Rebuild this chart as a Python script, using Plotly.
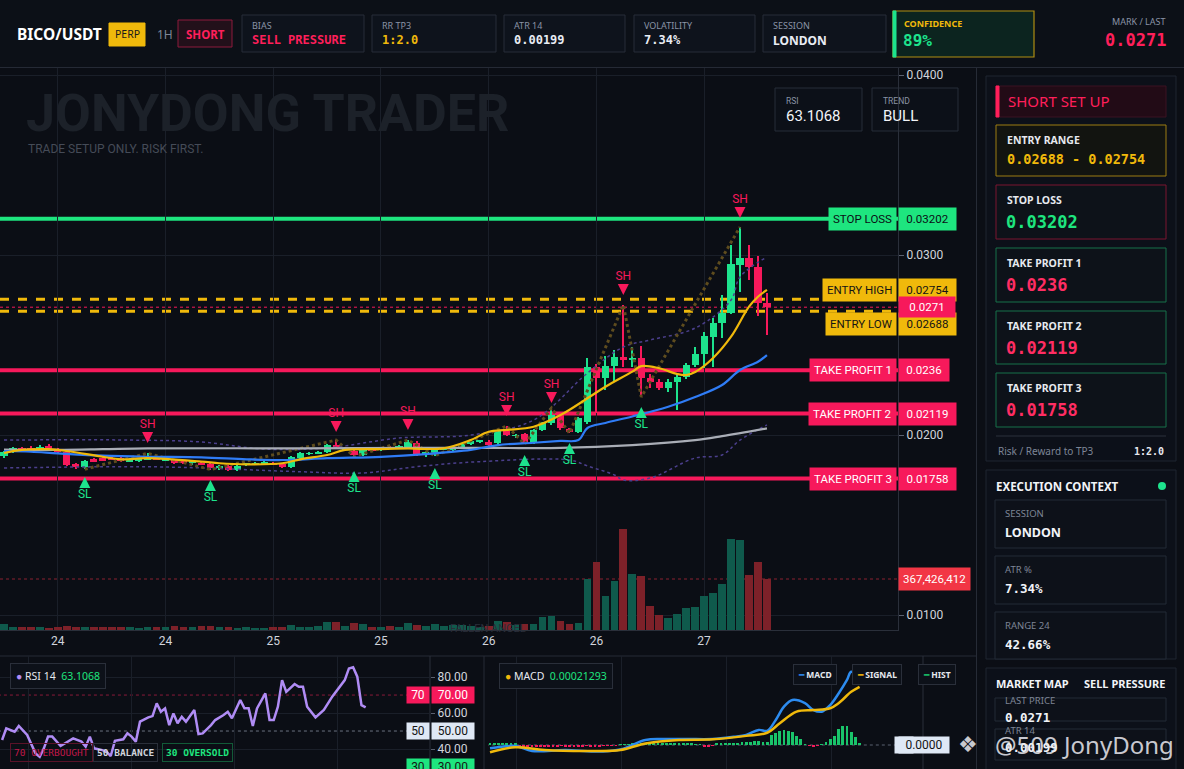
import pandas as pd
import plotly.graph_objects as go

W, H = 1184, 769


def X(px):
    return px / W


def Y(py):
    return 1 - py / H


# ---------------- data ----------------
opens = [0.01882, 0.01905, 0.01928, 0.01930, 0.01916, 0.01941, 0.01922, 0.01905, 0.01838, 0.01824,
         0.01868, 0.01870, 0.01872, 0.01870, 0.01855, 0.01858, 0.01865, 0.01873, 0.01860, 0.01862,
         0.01858, 0.01842, 0.01845, 0.01838, 0.01815, 0.01830, 0.01806, 0.01834, 0.01838, 0.01838,
         0.01845, 0.01840, 0.01822, 0.01872, 0.01895, 0.01898, 0.01905, 0.01942, 0.01920, 0.01912,
         0.01890, 0.01925, 0.01915, 0.01932, 0.01928, 0.01935, 0.01958, 0.01890, 0.01895, 0.01922,
         0.01917, 0.01930, 0.01948, 0.01964, 0.01963, 0.01955, 0.02022, 0.01995, 0.02005, 0.01957,
         0.02028, 0.02065, 0.02110, 0.02035, 0.02018, 0.02072, 0.02378, 0.02317, 0.02383, 0.02433,
         0.02418, 0.02428, 0.02317, 0.02295, 0.02262, 0.02295, 0.02322, 0.02389, 0.02450, 0.02545,
         0.02622, 0.02678, 0.02945, 0.02983, 0.02933, 0.02733]
highs = [0.01912, 0.01935, 0.01936, 0.01938, 0.01942, 0.01950, 0.01930, 0.01910, 0.01845, 0.01862,
         0.01875, 0.01876, 0.01878, 0.01876, 0.01870, 0.01875, 0.01898, 0.01878, 0.01870, 0.01868,
         0.01862, 0.01860, 0.01850, 0.01842, 0.01835, 0.01836, 0.01834, 0.01845, 0.01848, 0.01858,
         0.01850, 0.01845, 0.01882, 0.01905, 0.01905, 0.01912, 0.01950, 0.01972, 0.01935, 0.01918,
         0.01920, 0.01932, 0.01935, 0.01940, 0.01945, 0.01972, 0.01966, 0.01912, 0.01922, 0.01935,
         0.01940, 0.01955, 0.01975, 0.01975, 0.01970, 0.02030, 0.02050, 0.02008, 0.02012, 0.02035,
         0.02072, 0.02150, 0.02118, 0.02040, 0.02100, 0.02430, 0.02395, 0.02440, 0.02470, 0.02722,
         0.02490, 0.02495, 0.02340, 0.02310, 0.02310, 0.02340, 0.02400, 0.02489, 0.02572, 0.02650,
         0.02780, 0.03056, 0.03156, 0.03056, 0.02994, 0.02789]
lows = [0.01872, 0.01900, 0.01915, 0.01912, 0.01910, 0.01918, 0.01898, 0.01828, 0.01812, 0.01810,
        0.01848, 0.01855, 0.01860, 0.01848, 0.01850, 0.01852, 0.01860, 0.01860, 0.01855, 0.01838,
        0.01838, 0.01836, 0.01832, 0.01808, 0.01808, 0.01800, 0.01800, 0.01828, 0.01832, 0.01834,
        0.01835, 0.01815, 0.01818, 0.01866, 0.01888, 0.01892, 0.01900, 0.01930, 0.01912, 0.01880,
        0.01885, 0.01905, 0.01910, 0.01920, 0.01922, 0.01930, 0.01885, 0.01878, 0.01885, 0.01915,
        0.01910, 0.01925, 0.01942, 0.01958, 0.01940, 0.01948, 0.01992, 0.01985, 0.01950, 0.01950,
        0.02020, 0.02058, 0.02030, 0.02010, 0.02012, 0.02060, 0.02122, 0.02250, 0.02300, 0.02380,
        0.02380, 0.02211, 0.02260, 0.02250, 0.02240, 0.02139, 0.02310, 0.02378, 0.02372, 0.02378,
        0.02540, 0.02670, 0.02794, 0.02861, 0.02661, 0.02556]
closes = [0.01905, 0.01926, 0.01922, 0.01918, 0.01934, 0.01922, 0.01905, 0.01835, 0.01822, 0.01856,
          0.01852, 0.01858, 0.01865, 0.01855, 0.01866, 0.01870, 0.01872, 0.01865, 0.01866, 0.01842,
          0.01843, 0.01855, 0.01838, 0.01815, 0.01830, 0.01806, 0.01830, 0.01840, 0.01842, 0.01852,
          0.01838, 0.01822, 0.01878, 0.01898, 0.01899, 0.01907, 0.01944, 0.01936, 0.01930, 0.01890,
          0.01915, 0.01910, 0.01930, 0.01926, 0.01940, 0.01960, 0.01894, 0.01907, 0.01917, 0.01927,
          0.01935, 0.01950, 0.01968, 0.01968, 0.01945, 0.02022, 0.02000, 0.01998, 0.01957, 0.02028,
          0.02065, 0.02111, 0.02037, 0.02018, 0.02093, 0.02378, 0.02317, 0.02383, 0.02433, 0.02422,
          0.02428, 0.02317, 0.02295, 0.02262, 0.02295, 0.02322, 0.02389, 0.02450, 0.02550, 0.02622,
          0.02678, 0.02950, 0.02983, 0.02933, 0.02733, 0.02710]
volume_m = [43, 22, 22, 24, 22, 14, 22, 29, 22, 22, 22, 22, 22, 22, 22, 14, 22, 22, 22, 29,
            22, 22, 29, 29, 22, 22, 14, 22, 14, 14, 22, 22, 36, 22, 22, 29, 58, 58, 29, 50,
            43, 22, 22, 29, 22, 50, 36, 29, 43, 29, 36, 36, 29, 22, 29, 65, 58, 36, 43, 43,
            94, 101, 65, 43, 50, 367, 490, 245, 353, 727, 403, 389, 173, 108, 86, 115, 158, 166, 245, 266,
            331, 655, 648, 396, 490, 367.426412]

tick_labels = ["24", "24", "25", "25", "26", "26", "27"]

# indicator lines, read at sample candles
ema_fast_idx = [0, 2, 5, 7, 11, 13, 16, 22, 24, 27, 31, 33, 36, 38, 42, 45, 49, 52, 54, 56, 59, 62,
                65, 67, 70, 71, 73, 75, 76, 77, 79, 81, 83, 84, 85]
ema_fast = [0.01900, 0.01917, 0.01921, 0.01911, 0.01879, 0.01865, 0.01871, 0.01852, 0.01843, 0.01837,
            0.01843, 0.01865, 0.01889, 0.01917, 0.01922, 0.01925, 0.01926, 0.01972, 0.02018, 0.02028,
            0.02046, 0.02111, 0.02204, 0.02268, 0.02352, 0.02383, 0.02371, 0.02339, 0.02333, 0.02350,
            0.02428, 0.02546, 0.02713, 0.02768, 0.02806]
ema_mid_idx = [0, 3, 6, 11, 16, 22, 27, 31, 36, 42, 47, 52, 55, 59, 62, 64, 65, 67, 70, 74, 77, 80, 82, 84, 85]
ema_mid = [0.01911, 0.01907, 0.01898, 0.01885, 0.01879, 0.01876, 0.01865, 0.01861, 0.01871, 0.01879,
           0.01894, 0.01917, 0.01944, 0.01957, 0.01967, 0.01972, 0.02039, 0.02067, 0.02103, 0.02157,
           0.02211, 0.02278, 0.02361, 0.02407, 0.02444]
ema_slow_idx = [0, 6, 11, 16, 33, 46, 55, 62, 70, 77, 80, 85]
ema_slow = [0.01919, 0.01917, 0.01921, 0.01926, 0.01926, 0.01929, 0.01928, 0.01928, 0.01944, 0.01972,
            0.01994, 0.02037]
bb_up_idx = [0, 14, 22, 29, 36, 44, 52, 59, 65, 69, 72, 77, 81, 82, 85]
bb_up = [0.01972, 0.01972, 0.01961, 0.01922, 0.01928, 0.01983, 0.02000, 0.02083, 0.02344, 0.02489,
         0.02528, 0.02594, 0.02750, 0.02878, 0.02989]
bb_lo_idx = [0, 15, 22, 33, 40, 46, 53, 63, 65, 68, 69, 72, 77, 80, 82, 85]
bb_lo = [0.01817, 0.01824, 0.01817, 0.01796, 0.01789, 0.01824, 0.01852, 0.01861, 0.01828, 0.01778,
         0.01750, 0.01761, 0.01872, 0.01889, 0.01972, 0.02056]
zz_idx = [9, 16, 23, 37, 39, 45, 48, 56, 58, 61, 63, 69, 71, 82]
zz_price = [0.01810, 0.01898, 0.01808, 0.01972, 0.01880, 0.01972, 0.01885, 0.02050, 0.01950, 0.02150,
            0.02010, 0.02722, 0.02211, 0.03156]

sh_idx = [16, 37, 45, 56, 61, 69, 82]
sh_price = [0.01956, 0.02017, 0.02028, 0.02106, 0.02178, 0.02778, 0.03206]
sl_idx = [9, 23, 39, 48, 58, 63, 71]
sl_price = [0.01767, 0.01750, 0.01800, 0.01817, 0.01889, 0.01956, 0.02156]

levels = [("STOP LOSS", 0.03202), ("ENTRY HIGH", 0.02754), ("ENTRY LOW", 0.02688),
          ("TAKE PROFIT 1", 0.0236), ("TAKE PROFIT 2", 0.02119), ("TAKE PROFIT 3", 0.01758)]
last_price = 0.0271

rsi_idx = [0, 1, 3, 4, 6, 8, 9, 10, 11, 12, 14, 15, 17, 19, 20, 21, 22, 24, 25, 26, 27, 29, 30, 31,
           32, 33, 35, 36, 37, 38, 39, 40, 41, 42, 43, 44, 46, 47, 48, 50, 51, 53, 54, 55, 57, 58,
           59, 60, 61, 63, 64, 65, 66, 67, 68, 70, 71, 72, 73, 75, 77, 79, 82, 83, 84, 85, 86, 87]
rsi_vals = [45.0, 51.5, 49.6, 52.8, 47.8, 37.6, 35.7, 40.4, 46.9, 46.9, 41.7, 43.1, 45.9, 44.1, 41.3,
            46.9, 40.4, 39.4, 38.5, 36.1, 44.6, 45.4, 48.7, 46.9, 44.1, 55.2, 57.6, 58.3, 65.4, 60.7,
            62.6, 53.3, 59.8, 54.3, 57.9, 55.2, 61.7, 48.3, 48.7, 53.3, 56.1, 58.9, 60.7, 57.1, 67.2,
            62.6, 62.6, 52.8, 62.6, 70.9, 56.1, 56.1, 63.5, 78.3, 71.8, 76.1, 74.6, 74.6, 63.5, 57.6,
            61.7, 69.1, 78.3, 84.8, 85.4, 80.2, 64.4, 63.1068]

macd_idx = [0, 6, 10, 18, 25, 31, 37, 41, 47, 53, 58, 61, 64, 66, 68, 70, 72, 75, 77, 79, 81, 83, 85, 86, 88]
macd_line = [-1.05e-5, -0.32e-5, -1.9e-5, -1.6e-5, -2.1e-5, -1.4e-5, 1.6e-5, 1.9e-5, 1.9e-5, 1.9e-5,
             2.6e-5, 3.2e-5, 4.8e-5, 4.5e-5, 7.9e-5, 12.2e-5, 14.3e-5, 13.3e-5, 11.1e-5, 10.6e-5,
             12.7e-5, 16.4e-5, 20.7e-5, 23.3e-5, 21.293e-5]
signal_idx = [0, 6, 13, 25, 31, 37, 45, 53, 61, 66, 69, 73, 77, 81, 83, 86, 88]
signal_line = [-2.3e-5, -0.7e-5, -1.6e-5, -1.9e-5, -1.6e-5, 0.5e-5, 1.6e-5, 1.8e-5, 2.9e-5, 3.9e-5,
               6.9e-5, 10.6e-5, 11.1e-5, 11.7e-5, 13.3e-5, 16.9e-5, 18.5e-5]
hist = [0.5, 0.5, 0.6, 0.5, 0.5, 0.6, 0.4, -0.4, -0.5, -0.4, -0.6, -0.5, -0.4, -0.5, -0.6, -0.4,
        -0.5, -0.3, -0.4, -0.5, -0.6, -0.5, -0.4, -0.3, -0.5, -0.6, -0.4, -0.3, -0.2, -0.2, -0.1, 0.1,
        0.2, 0.3, 0.4, 0.5, 0.6, 0.7, 0.8, 0.7, 0.6, 0.6, 0.5, 0.6, 0.5, 0.4, 0.5, 0.4, 0.5, 0.3,
        0.2, -0.4, -0.5, -0.3, 0.4, 0.5, 0.6, 0.5, 0.7, 0.6, 0.8, 0.9, 1.1, 1.3, 1.2, 1.0, 1.1, 3.2,
        3.7, 4.5, 4.8, 4.5, 4.2, 2.9, 1.8, 0.2, -0.3, -0.5, -0.3, 0.1, 1.1, 1.8, 2.9, 5.0, 6.0, 6.0,
        4.2, 2.4, 0.5]

# ---------------- styling ----------------
BG = "#0b0e15"
GRID = "#1a1f29"
BORDER = "#262c38"
GREEN = "#1de38d"
RED = "#f7195b"
YELLOW = "#f0b90b"
TXT = "#d1d4dc"
MUTED = "#7d8596"
SANS = "Noto Sans, Open Sans, sans-serif"
MONO = "DejaVu Sans Mono, monospace"
NARROW = "Liberation Sans Narrow, Roboto, sans-serif"

start = pd.Timestamp("2025-06-23 18:00")
times = pd.date_range(start, periods=len(opens), freq="h")
hour = pd.Timedelta(hours=1)
tick_times = [pd.Timestamp("2025-06-24 00:00") + 12 * k * hour for k in range(len(tick_labels))]

fig = go.Figure()

vol_colors = ["#0f5a4c" if c >= o else "#7d2129" for o, c in zip(opens, closes)]
fig.add_trace(go.Bar(x=times, y=[v * 1e6 for v in volume_m], marker_color=vol_colors,
                     marker_line_width=0, width=0.86 * 3600000, yaxis="y2", showlegend=False,
                     hoverinfo="skip"))


def tline(idx, vals, color, width, dash="solid", shape="spline"):
    fig.add_trace(go.Scatter(x=[times[i] for i in idx], y=vals, mode="lines",
                             line=dict(color=color, width=width, dash=dash, shape=shape),
                             showlegend=False, hoverinfo="skip"))


tline(bb_up_idx, bb_up, "#4b3f8c", 1.5, "dot")
tline(bb_lo_idx, bb_lo, "#4b3f8c", 1.5, "dot")
tline(zz_idx, zz_price, "#5e4c1e", 3, "dot", "linear")
tline(ema_slow_idx, ema_slow, "#a9adb6", 2.2)
tline(ema_mid_idx, ema_mid, "#2f7cf6", 2.2)
tline(ema_fast_idx, ema_fast, YELLOW, 2.2)

# candles drawn as wick + body bars
candle_colors = [GREEN if c >= o else RED for o, c in zip(opens, closes)]
fig.add_trace(go.Bar(x=times, base=lows, y=[h - l for h, l in zip(highs, lows)],
                     marker_color=candle_colors, marker_line_width=0, width=0.13 * 3600000,
                     showlegend=False, hoverinfo="skip"))
fig.add_trace(go.Bar(x=times, base=[min(o, c) for o, c in zip(opens, closes)],
                     y=[max(abs(c - o), 0.00004) for o, c in zip(opens, closes)],
                     marker_color=candle_colors, marker_line_width=0, width=0.8 * 3600000,
                     showlegend=False, hoverinfo="skip"))

# swing markers: arrows, then labels kept clear of the arrow
for idx, price, sym, col, lab, pos in [(sh_idx, sh_price, "arrow-down", RED, "SH", "top center"),
                                       (sl_idx, sl_price, "arrow-up", GREEN, "SL", "bottom center")]:
    pts = [times[i] for i in idx]
    fig.add_trace(go.Scatter(x=pts, y=price, mode="markers",
                             marker=dict(symbol=sym, size=11, color=col, line=dict(width=0)),
                             showlegend=False, hoverinfo="skip"))
    fig.add_trace(go.Scatter(x=pts, y=price, mode="markers+text",
                             marker=dict(size=17, color="rgba(0,0,0,0)"),
                             text=[lab] * len(idx), textposition=pos,
                             textfont=dict(color=col, size=12, family=NARROW),
                             showlegend=False, hoverinfo="skip"))

# RSI pane
fig.add_trace(go.Scatter(x=rsi_idx, y=rsi_vals, mode="lines", xaxis="x3", yaxis="y3",
                         line=dict(color="#b08cf5", width=2.5), showlegend=False, hoverinfo="skip"))

# MACD pane
fig.add_trace(go.Bar(x=list(range(len(hist))), y=[h * 1e-5 for h in hist], xaxis="x4", yaxis="y4",
                     marker_color=["#19c46a" if h >= 0 else RED for h in hist], marker_line_width=0,
                     width=0.7, showlegend=False, hoverinfo="skip"))
fig.add_trace(go.Scatter(x=macd_idx, y=macd_line, mode="lines", xaxis="x4", yaxis="y4",
                         line=dict(color="#2d8cf0", width=2.5, shape="spline"), showlegend=False,
                         hoverinfo="skip"))
fig.add_trace(go.Scatter(x=signal_idx, y=signal_line, mode="lines", xaxis="x4", yaxis="y4",
                         line=dict(color=YELLOW, width=2.5, shape="spline"), showlegend=False,
                         hoverinfo="skip"))

shapes = []
ann = []


def rect(x0, y0, x1, y1, line=BORDER, fill="rgba(0,0,0,0)", lw=1):
    shapes.append(dict(type="rect", xref="paper", yref="paper", x0=X(x0), x1=X(x1), y0=Y(y1), y1=Y(y0),
                       line=dict(color=line, width=lw), fillcolor=fill, layer="below"))


def seg(x0, y0, x1, y1, color=BORDER, lw=1, dash="solid"):
    shapes.append(dict(type="line", xref="paper", yref="paper", x0=X(x0), x1=X(x1), y0=Y(y0), y1=Y(y1),
                       line=dict(color=color, width=lw, dash=dash), layer="below"))


def txt(px, py, s, size=11, color=TXT, family=SANS, anchor="left", **kw):
    ann.append(dict(xref="paper", yref="paper", x=X(px), y=Y(py), text=s, showarrow=False,
                    xanchor=anchor, yanchor="middle", font=dict(size=size, color=color, family=family), **kw))


# header
rect(0, 0, 1184, 67, line="rgba(0,0,0,0)", fill="#0c1017")
seg(0, 67.5, 1184, 67.5, "#252a35")
txt(15, 34, "<b>BICO/USDT</b>", 15.5, "#ffffff")
rect(109, 23, 145, 46, line=YELLOW, fill=YELLOW)
txt(127, 34.5, "PERP", 10.5, "#1a1a1a", anchor="center")
txt(155, 34, "1H", 12, MUTED)
rect(178, 20, 232, 47, line="#8c1a3c", fill="#22101a")
txt(205, 34, "<b>SHORT</b>", 11.5, "#ff1f5a", anchor="center")
header_boxes = [(242, 364, "BIAS", "SELL PRESSURE", "#ff1f5a", MONO),
                (372, 496, "RR TP3", "1:2.0", YELLOW, MONO),
                (504, 625, "ATR 14", "0.00199", "#e8ecf4", MONO),
                (634, 755, "VOLATILITY", "7.34%", "#e8ecf4", MONO),
                (763, 886, "SESSION", "LONDON", "#e8ecf4", SANS)]
for x0, x1, lab, val, col, fam in header_boxes:
    rect(x0, 15, x1, 52, line=BORDER, fill="#0e131c")
    txt(x0 + 8, 26, lab, 9, "#8a93a6")
    txt(x0 + 8, 40, "<b>" + val + "</b>", 12, col, fam)
rect(893, 11, 1034, 57, line="#b08d12", fill="#0c241f", lw=1.2)
rect(893, 11, 896, 57, line=GREEN, fill=GREEN)
txt(902, 23, "<b>CONFIDENCE</b>", 9, YELLOW)
txt(901, 40, "<b>89%</b>", 16, GREEN, MONO)
txt(1168, 22, "MARK / LAST", 9, "#8a93a6", anchor="right")
txt(1168, 40, "<b>0.0271</b>", 17, "#ff1f5a", MONO, anchor="right")

# frame lines
seg(0, 656, 976, 656, "#262b36")
seg(976.5, 68, 976.5, 769, "#262b36")
seg(484, 656, 484, 769, "#262b36")
seg(430, 656, 430, 769, "#2a2f3a")
seg(923, 656, 923, 769, "#2a2f3a")

# watermark
txt(24, 113, "<b>JONYDONG TRADER</b>", 52, "#1c2129", NARROW)
txt(26, 149, "TRADE SETUP ONLY. RISK FIRST.", 12, "#454b57", NARROW)
txt(488, 628, "FALLEN ANGEL", 11, "#2a2f3a", NARROW, anchor="center")
for x0, x1, lab, val in [(775, 862, "RSI", "63.1068"), (872, 958, "TREND", "BULL")]:
    rect(x0, 88, x1, 131, line=BORDER, fill="#0c1018")
    txt(x0 + 9, 101, lab, 8.5, "#8a93a6", NARROW)
    txt(x0 + 9, 116, val, 15, "#f2f4f8", NARROW)

# price levels
level_style = {"STOP LOSS": ("#1ee57f", "#0b0e15", 0), "ENTRY HIGH": (YELLOW, "#141414", 9),
               "ENTRY LOW": (YELLOW, "#141414", -13), "TAKE PROFIT 1": (RED, "#ffffff", 0),
               "TAKE PROFIT 2": (RED, "#ffffff", 0), "TAKE PROFIT 3": (RED, "#ffffff", 0)}
for name, price in levels:
    bg, fg, ys = level_style[name]
    if name.startswith("ENTRY"):
        shapes.append(dict(type="line", xref="paper", yref="y", x0=0, x1=X(898), y0=price, y1=price,
                           line=dict(color=YELLOW, width=3, dash="dash"), layer="below"))
    else:
        shapes.append(dict(type="line", xref="paper", yref="y", x0=0, x1=X(898), y0=price, y1=price,
                           line=dict(color=bg, width=4), layer="below"))
    val = f"{price:.5f}".rstrip("0")
    ann.append(dict(xref="paper", yref="y", x=X(897), y=price, yshift=ys, text=name, showarrow=False,
                    xanchor="right", yanchor="middle", bgcolor=bg, borderpad=4,
                    font=dict(size=11.5, color=fg, family=NARROW)))
    ann.append(dict(xref="paper", yref="y", x=X(898), y=price, yshift=ys, text=val, showarrow=False,
                    xanchor="left", yanchor="middle", bgcolor=bg, borderpad=4, width=7 * len(val),
                    font=dict(size=11.5, color=fg, family=NARROW)))
shapes.append(dict(type="line", xref="paper", yref="y", x0=0, x1=X(898), y0=last_price, y1=last_price,
                   line=dict(color=RED, width=1, dash="dot"), layer="below"))
ann.append(dict(xref="paper", yref="y", x=X(898), y=last_price, text=f"{last_price}", showarrow=False,
                xanchor="left", yanchor="middle", bgcolor=RED, borderpad=3, width=50,
                font=dict(size=11.5, color="#ffffff", family=NARROW)))
shapes.append(dict(type="line", xref="paper", yref="y2", x0=0, x1=X(898), y0=volume_m[-1] * 1e6,
                   y1=volume_m[-1] * 1e6, line=dict(color="#8a2030", width=1, dash="dot"), layer="below"))
ann.append(dict(xref="paper", yref="y2", x=X(898), y=volume_m[-1] * 1e6,
                text=f"{int(volume_m[-1] * 1e6):,}", showarrow=False, xanchor="left", yanchor="middle",
                bgcolor="#f23645", borderpad=4, font=dict(size=11.5, color="#ffffff", family=NARROW)))

# right panel: short set up
rect(986, 76, 1176, 461, line="#1f2531", fill="#0c1019")
rect(996, 86, 1166, 117, line="#3a1222", fill="#220b16")
rect(996, 86, 999, 117, line="#ff1f5a", fill="#ff1f5a")
txt(1006, 101, "SHORT SET UP", 15, "#ff1f5a")
rect(996, 125, 1166, 176, line="#9c7c12", fill="#121410")
txt(1005, 140, "<b>ENTRY RANGE</b>", 10.5, "#e6e9ef")
txt(1005, 159, "<b>0.02688 - 0.02754</b>", 13.5, YELLOW, MONO)
cards = [(185, 239, "STOP LOSS", "0.03202", "#7a1530", "#1ee57f"),
         (248, 302, "TAKE PROFIT 1", "0.0236", "#17704a", "#ff2d63"),
         (311, 364, "TAKE PROFIT 2", "0.02119", "#17704a", "#ff2d63"),
         (373, 427, "TAKE PROFIT 3", "0.01758", "#17704a", "#ff2d63")]
for y0, y1, lab, val, bc, vc in cards:
    rect(996, y0, 1166, y1, line=bc, fill="#0d1219")
    txt(1005, y0 + 15, "<b>" + lab + "</b>", 10.5, "#e6e9ef")
    txt(1004, y0 + 37, "<b>" + val + "</b>", 17, vc, MONO)
seg(996, 436, 1166, 436, "#2a303c")
txt(996, 451, "Risk / Reward to TP3", 10, MUTED)
txt(1166, 451, "<b>1:2.0</b>", 10, "#e6e9ef", MONO, anchor="right")

# execution context
rect(986, 470, 1176, 659, line="#1f2531", fill="#0c1019")
txt(994, 486, "<b>EXECUTION CONTEXT</b>", 11.5, "#f2f4f8")
shapes.append(dict(type="circle", xref="paper", yref="paper", x0=X(1158), x1=X(1166), y0=Y(490), y1=Y(482),
                   fillcolor=GREEN, line=dict(width=0)))
for y0, lab, val, fam in [(500, "SESSION", "LONDON", SANS), (556, "ATR %", "7.34%", MONO),
                          (612, "RANGE 24", "42.66%", MONO)]:
    rect(995, y0, 1166, min(y0 + 48, 659), line="#232a36", fill="#0d1119")
    txt(1003, y0 + 13, lab, 9.5, "#7d8596")
    txt(1003, y0 + 32, "<b>" + val + "</b>", 12.5, "#f2f4f8", fam)

# market map
rect(986, 668, 1176, 775, line="#1f2531", fill="#0c1019")
txt(994, 683, "<b>MARKET MAP</b>", 11, "#f2f4f8")
txt(1167, 683, "<b>SELL PRESSURE</b>", 11, "#f2f4f8", anchor="right")
rect(995, 698, 1166, 721, line="#232a36", fill="#0d1119")
rect(995, 729, 1166, 760, line="#232a36", fill="#0d1119")
txt(1003, 700, "LAST PRICE", 9.5, "#7d8596")
txt(1003, 717, "<b>0.0271</b>", 12.5, "#f2f4f8", MONO)
txt(1003, 730, "ATR 14", 9.5, "#7d8596")
txt(1003, 747, "<b>0.00199</b>", 12.5, "#f2f4f8", MONO)

# RSI pane decorations
for lvl, col in [(70, "#8a1a3a"), (50, "#6b7280")]:
    shapes.append(dict(type="line", xref="x3", yref="y3", x0=-1, x1=103, y0=lvl, y1=lvl,
                       line=dict(color=col, width=1, dash="dot"), layer="below"))
for lvl, bg, fg in [(70, RED, "#ffffff"), (50, "#dfe8f5", "#141414"), (30, "#1ee57f", "#141414")]:
    ann.append(dict(xref="paper", yref="y3", x=X(417.5), y=lvl, text=str(lvl), showarrow=False,
                    bgcolor=bg, width=20, height=14, font=dict(size=12, color=fg, family=NARROW)))
    ann.append(dict(xref="paper", yref="y3", x=X(452.5), y=lvl, text=f"{lvl:.2f}", showarrow=False,
                    bgcolor=bg, width=40, height=14, font=dict(size=12, color=fg, family=NARROW)))
txt(10, 675.5, "<span style='color:#b08cf5'>●</span> RSI 14  <span style='color:#1ee57f'>63.1068</span>",
    10.5, "#e6e9ef", SANS, bordercolor="#2a2f3a", borderpad=5, bgcolor="#0d1119")
txt(10, 752, "70 OVERBOUGHT", 9.5, "#c0184a", MONO, bordercolor="#5a1228", borderpad=3)
txt(93, 752, "<b>50 BALANCE</b>", 9.5, "#d1d4dc", MONO, bordercolor="#2a2f3a", borderpad=3)
txt(162, 752, "<b>30 OVERSOLD</b>", 9.5, "#1ee57f", MONO, bordercolor="#125a38", borderpad=3)

# MACD pane decorations
shapes.append(dict(type="line", xref="x4", yref="y4", x0=-1, x1=104, y0=0, y1=0,
                   line=dict(color="#5a6070", width=1, dash="dot"), layer="below"))
ann.append(dict(xref="paper", yref="y4", x=X(913.5), y=0, text="0", showarrow=False, bgcolor="#dfe8f5",
                width=16, height=14, font=dict(size=12, color="#141414", family=NARROW)))
ann.append(dict(xref="paper", yref="y4", x=X(949.5), y=0, text="0.0000", showarrow=False, bgcolor="#dfe8f5",
                width=48, height=14, font=dict(size=12, color="#141414", family=NARROW)))
txt(499, 675.5, "<span style='color:#f0b90b'>●</span> MACD  <span style='color:#1ee57f'>0.00021293</span>",
    10.5, "#e6e9ef", SANS, bordercolor="#2a2f3a", borderpad=5, bgcolor="#0d1119")
txt(793, 674.5, "<span style='color:#2d8cf0'>━</span> <b>MACD</b>", 8.5, "#e6e9ef", SANS,
    bordercolor="#2a2f3a", borderpad=4, bgcolor="#0d1119")
txt(852, 674.5, "<span style='color:#f0b90b'>━</span> <b>SIGNAL</b>", 8.5, "#e6e9ef", SANS,
    bordercolor="#2a2f3a", borderpad=4, bgcolor="#0d1119")
txt(918, 674.5, "<span style='color:#19c46a'>━</span> <b>HIST</b>", 8.5, "#e6e9ef", SANS,
    bordercolor="#2a2f3a", borderpad=4, bgcolor="#0d1119")

# overlay mark
txt(1176, 744, "@509 JonyDong", 24, "rgba(236,236,242,0.85)", SANS, anchor="right")
txt(956, 744, "❖", 22, "rgba(236,236,242,0.85)", "DejaVu Sans")

fig.update_layout(
    width=W, height=H, margin=dict(l=0, r=0, t=0, b=0),
    paper_bgcolor=BG, plot_bgcolor=BG, showlegend=False, barmode="overlay", bargap=0,
    shapes=shapes, annotations=ann,
    xaxis=dict(domain=[0, X(898)], anchor="y", type="date",
               range=[start - 0.446 * hour, start + 99.6 * hour],
               tickvals=tick_times, ticktext=tick_labels, showgrid=True, gridcolor=GRID,
               tickfont=dict(size=12, color=TXT, family=NARROW), showline=True, linecolor="#2a2f3a",
               zeroline=False, fixedrange=True),
    yaxis=dict(domain=[Y(630), Y(68)], anchor="x", side="right", range=[0.0091667, 0.040389],
               tickvals=[0.01, 0.02, 0.03, 0.04], ticktext=["0.0100", "0.0200", "0.0300", "0.0400"],
               showgrid=True, gridcolor=GRID, zeroline=False, showline=True, linecolor="#2a2f3a",
               ticks="outside", ticklen=5, tickcolor="#5a6070",
               tickfont=dict(size=12, color=TXT, family=NARROW)),
    yaxis2=dict(overlaying="y", anchor="x", range=[0, 4.049e9], visible=False),
    xaxis3=dict(domain=[0, X(430)], anchor="y3", range=[-0.5, 102.4], showgrid=True, gridcolor=GRID,
                tick0=6.4, dtick=24.6, showticklabels=False, zeroline=False),
    yaxis3=dict(domain=[0, Y(656)], anchor="x3", side="right", range=[28.9, 91.7],
                tickvals=[40, 60, 80], ticktext=["40.00", "60.00", "80.00"], showgrid=True,
                gridcolor=GRID, zeroline=False, ticks="outside", ticklen=4, tickcolor="#5a6070",
                tickfont=dict(size=12, color=TXT, family=NARROW)),
    xaxis4=dict(domain=[X(488), X(923)], anchor="y4", range=[-0.48, 103.1], showgrid=True, gridcolor=GRID,
                tick0=6.2, dtick=25, showticklabels=False, zeroline=False),
    yaxis4=dict(domain=[0, Y(656)], anchor="x4", side="right", range=[-7.63e-5, 2.83e-4],
                showticklabels=False, showgrid=False, zeroline=False),
)

fig.write_html("out.html", config={"displayModeBar": False},
               post_script="document.body.style.margin='0';document.body.style.background='#0b0e15';")
